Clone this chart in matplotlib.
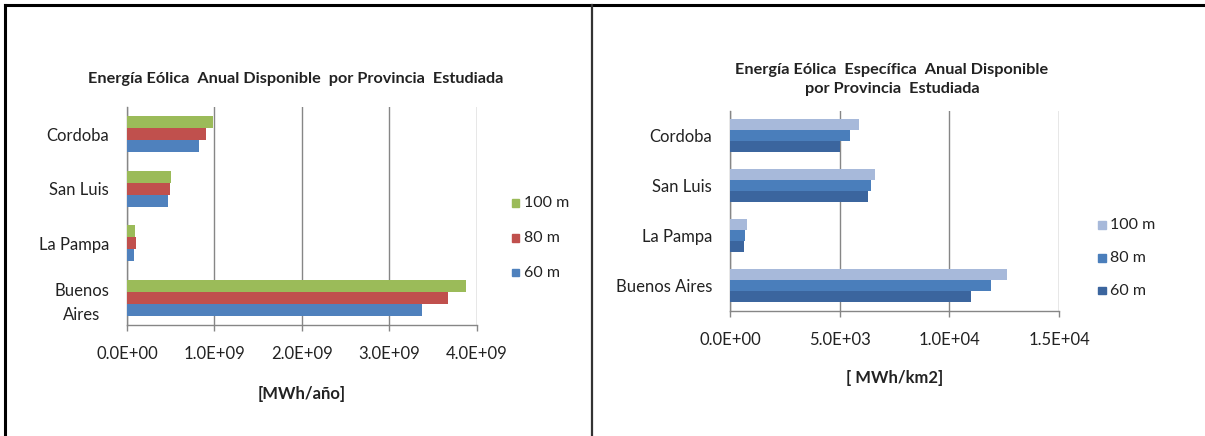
import matplotlib
matplotlib.use("Agg")
import matplotlib.pyplot as plt
from matplotlib.lines import Line2D
import numpy as np

plt.rcParams['font.family'] = ['Lato', 'DejaVu Sans']

# Provinces, listed bottom to top as they appear on the category axis
provincias_izq = ["Buenos\nAires", "La Pampa", "San Luis", "Cordoba"]
provincias_der = ["Buenos Aires", "La Pampa", "San Luis", "Cordoba"]
alturas = ["100 m", "80 m", "60 m"]

# Annual available wind energy [MWh/año]
energia_100m = [3.88e9, 0.095e9, 0.50e9, 0.98e9]
energia_80m = [3.67e9, 0.10e9, 0.49e9, 0.90e9]
energia_60m = [3.38e9, 0.084e9, 0.47e9, 0.82e9]

# Specific annual available wind energy [MWh/km2]
especifica_100m = [12640, 760, 6610, 5870]
especifica_80m = [11900, 690, 6430, 5490]
especifica_60m = [10970, 640, 6300, 5000]

colores_izq = ["#9BBB59", "#C0504D", "#4F81BD"]
colores_der = ["#A7B9DA", "#4A7EBB", "#3B659E"]

TXT = "#222222"
W, H = 1205, 436
fig = plt.figure(figsize=(W / 100, H / 100), dpi=100)
fig.patch.set_facecolor("white")


def px_axes(x0, x1, top, bottom):
    return fig.add_axes([x0 / W, 1 - bottom / H, (x1 - x0) / W, (bottom - top) / H])


def dibujar(ax, etiquetas, series, colores, xmax, ticks, ticklabels, xlabel, labelpad):
    y = np.arange(len(etiquetas))
    h = 0.222
    offsets = [h, 0.0, -h]
    for vals, off, c in zip(series, offsets, colores):
        ax.barh(y + off, vals, height=h, color=c, edgecolor="none", zorder=3)
    ax.set_ylim(-0.5, len(etiquetas) - 0.5)
    ax.set_xlim(0, xmax)
    ax.set_yticks(y)
    ax.set_yticklabels(etiquetas, fontsize=12, color=TXT, linespacing=1.6)
    for t in ax.get_yticklabels():
        t.set_horizontalalignment("right")
        t.set_multialignment("center")
    ax.set_xticks(ticks)
    ax.set_xticklabels(ticklabels, fontsize=12, color=TXT)
    ax.tick_params(axis="y", length=0, pad=13)
    ax.tick_params(axis="x", length=4, width=1, color="#868686", pad=11)
    ax.grid(axis="x", color="#868686", linewidth=1, zorder=0)
    for s in ["top", "right"]:
        ax.spines[s].set_visible(False)
    for s in ["left", "bottom"]:
        ax.spines[s].set_color("#868686")
        ax.spines[s].set_linewidth(1)
    ax.set_xlabel(xlabel, fontsize=12, fontweight="bold", color=TXT, labelpad=labelpad)


# Left chart: total annual energy
ax1 = px_axes(127, 476.7, 107, 325)
dibujar(ax1, provincias_izq, [energia_100m, energia_80m, energia_60m], colores_izq,
        4e9, [0, 1e9, 2e9, 3e9, 4e9],
        ["0.0E+00", "1.0E+09", "2.0E+09", "3.0E+09", "4.0E+09"],
        "[MWh/año]", 17.5)
fig.text(296 / W, 1 - 79 / H, "Energía Eólica  Anual Disponible  por Provincia  Estudiada",
         ha="center", va="center", fontsize=11.7, fontweight="bold", color=TXT)

# Right chart: specific annual energy
ax2 = px_axes(730, 1059, 110.7, 310.7)
dibujar(ax2, provincias_der, [especifica_100m, especifica_80m, especifica_60m], colores_der,
        15000, [0, 5000, 10000, 15000],
        ["0.0E+00", "5.0E+03", "1.0E+04", "1.5E+04"],
        "[ MWh/km2]", 16)
fig.text(892 / W, 1 - 70 / H, "Energía Eólica  Específica  Anual Disponible",
         ha="center", va="center", fontsize=11.7, fontweight="bold", color=TXT)
fig.text(892 / W, 1 - 89 / H, "por Provincia  Estudiada",
         ha="center", va="center", fontsize=11.7, fontweight="bold", color=TXT)


# Legends: square swatch followed by the height label
def leyenda(x_marker, ys, colores):
    for name, yy, c in zip(alturas, ys, colores):
        fig.patches.append(plt.Rectangle((x_marker / W, 1 - (yy + 3.5) / H), 7.5 / W, 7.5 / H,
                                         transform=fig.transFigure, color=c, figure=fig))
        fig.text((x_marker + 12.5) / W, 1 - yy / H, name, ha="left", va="center",
                 fontsize=11.5, color=TXT)


leyenda(511.5, [203.3, 238.3, 272.7], colores_izq)
leyenda(1098, [225, 258.3, 290.7], colores_der)

# Table borders
fig.add_artist(Line2D([5 / W, 1], [1 - 5 / H, 1 - 5 / H], transform=fig.transFigure,
                      color="black", linewidth=2.2))
fig.add_artist(Line2D([5 / W, 5 / W], [0, 1 - 5 / H], transform=fig.transFigure,
                      color="black", linewidth=2.2))
fig.add_artist(Line2D([592 / W, 592 / W], [0, 1 - 5 / H], transform=fig.transFigure,
                      color="#333333", linewidth=1.6))

fig.savefig("out.png", dpi=100, facecolor="white")
